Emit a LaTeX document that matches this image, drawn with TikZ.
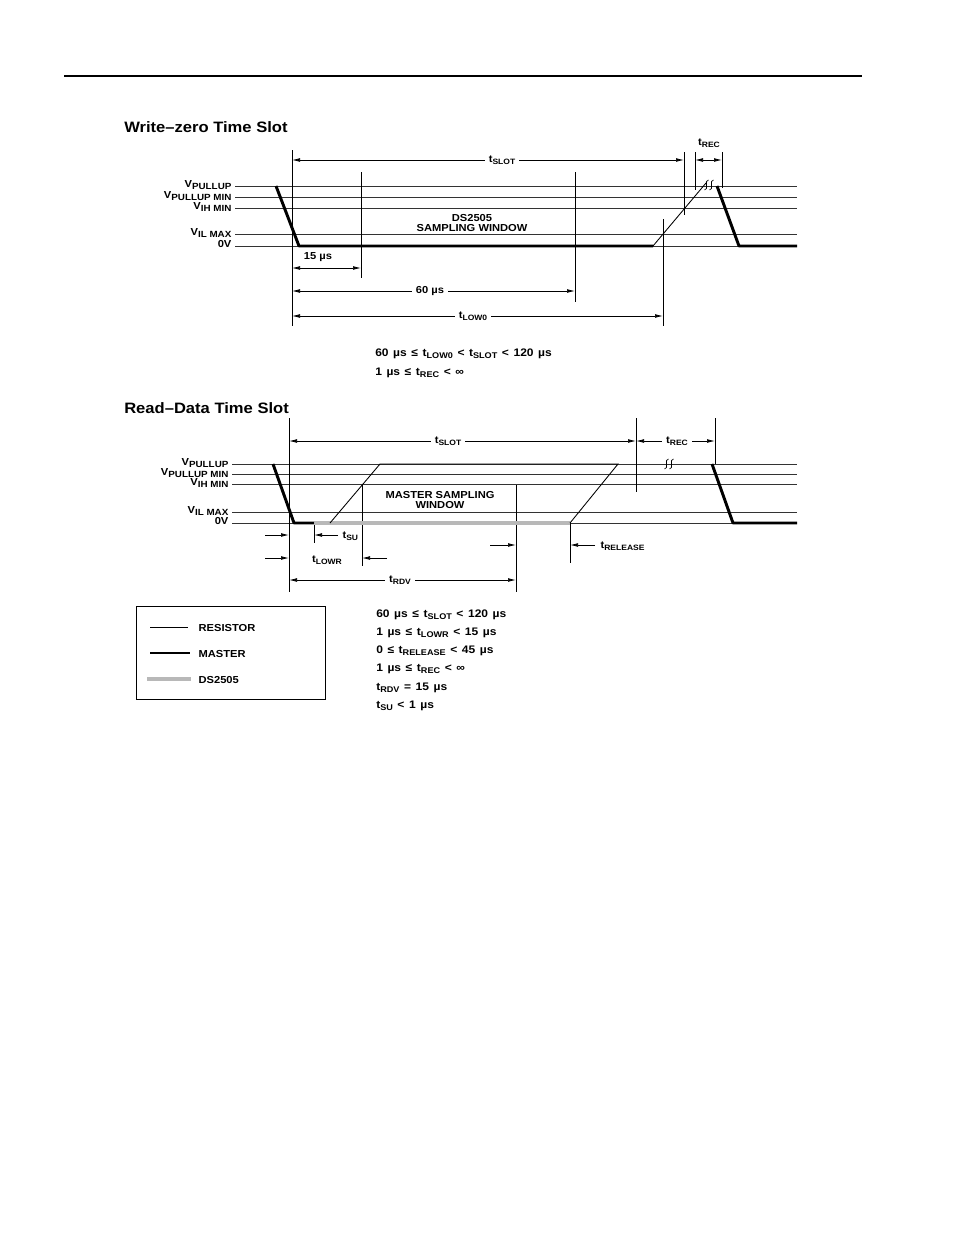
\documentclass[tikz,border=0pt]{standalone}
\usepackage{fontspec}
\setmainfont{Liberation Sans}[FakeStretch=1.1]
\usepackage{tikz}
\usetikzlibrary{arrows.meta}
\newcommand{\subsz}{5.8}
\newcommand{\vlev}[1]{V\raisebox{-1.5pt}{\fontsize{6.7}{7}\selectfont #1}}
\newcommand{\tsym}[1]{t\raisebox{-1.5pt}{\fontsize{\subsz}{6}\selectfont #1}}
\newcommand{\eqnfont}{\fontsize{8.2}{9}\selectfont\bfseries\def\subsz{6.2}\spaceskip=0.42em\relax}

\begin{document}
\begin{tikzpicture}[x=0.75pt, y=-0.75pt,
    level/.style={line width=0.6pt, black!80},
    guide/.style={line width=0.55pt},
    master/.style={line width=2.2pt, line join=round},
    resistor/.style={line width=0.65pt},
    slave/.style={line width=3.2pt, black!28},
    dim/.style={{Latex[length=6pt,width=2.8pt]}-{Latex[length=6pt,width=2.8pt]}, line width=0.55pt},
    pointer/.style={-{Latex[length=6pt,width=2.8pt]}, line width=0.55pt},
    lab/.style={font=\fontsize{7.6}{9}\selectfont\bfseries, inner sep=1pt},
    gaplab/.style={lab, fill=white, inner xsep=3pt},
    eqn/.style={font=\eqnfont, anchor=base west, inner sep=0pt},
    title/.style={font=\fontsize{11.3}{13}\selectfont\bfseries, anchor=base west, inner sep=0pt}]

  \useasboundingbox (0,0) rectangle (954,1235);
  \draw[line width=1pt] (64,76) -- (862,76);

  % write-zero slot
  \node[title] (wtitle) at (124,132) {Write–zero Time Slot};
  \foreach \y/\txt in {186/\vlev{PULLUP}, 197/\vlev{PULLUP MIN}, 208/\vlev{IH MIN},
                       234/\vlev{IL MAX}, 246/0V} {
    \node[lab, anchor=base east] at (233,\y+1) {\txt};
    \draw[level] (235,\y) -- (797,\y);
  }
  \foreach \x/\a/\b in {292/150/326, 361/172/278, 575/172/302, 663/219/326,
                        684/152/215, 695/152/190, 722/152/188}
    \draw[guide] (\x,\a) -- (\x,\b);
  \draw[master] (276,186) -- (299,246) -- (653,246);
  \draw[resistor] (653,246) -- (706,183);
  \draw[master] (717,186) -- (739,246) -- (797,246);
  \node[lab, align=center, font=\fontsize{7.6}{7.6}\selectfont\bfseries] (wwin) at (472,223)
    {DS2505\\SAMPLING WINDOW};

  \draw[dim] (292,160) -- (684,160);
  \node[gaplab] (wslot) at (502,160) {\tsym{SLOT}};
  \draw[dim] (695,160) -- (722,160);
  \node[lab] (wrec) at (709,143) {\tsym{REC}};
  \draw[dim] (292,268) -- (361,268);
  \node[lab] (w15) at (318,257) {15 µs};
  \draw[dim] (292,291) -- (575,291);
  \node[gaplab] (w60) at (430,291) {60 µs};
  \draw[dim] (292,316) -- (663,316);
  \node[gaplab] (wlow) at (473,316) {\tsym{LOW0}};

  \node[eqn] at (375,356) {60 µs ≤ \tsym{LOW0} < \tsym{SLOT} < 120 µs};
  \node[eqn] at (375,375) {1 µs ≤ \tsym{REC} < ∞};

  % read-data slot
  \node[title] (rtitle) at (124,413) {Read–Data Time Slot};
  \foreach \y/\txt in {464/\vlev{PULLUP}, 474/\vlev{PULLUP MIN}, 484/\vlev{IH MIN},
                       512/\vlev{IL MAX}, 523/0V} {
    \node[lab, anchor=base east] at (230,\y+1) {\txt};
    \draw[level] (232,\y) -- (797,\y);
  }
  \foreach \x/\a/\b in {289/418/592, 314/523/543, 362/485/566, 516/485/592,
                        570/523/563, 636/418/492, 715/418/464}
    \draw[guide] (\x,\a) -- (\x,\b);
  \draw[master] (273,464) -- (294,523) -- (314,523);
  \draw[slave] (314,523) -- (570,523);
  \draw[resistor] (330,523) -- (380,464) -- (618,464) -- (570,523);
  \draw[master] (712,464) -- (733,523) -- (797,523);
  \node[lab, align=center, font=\fontsize{7.6}{7.6}\selectfont\bfseries] (rwin) at (440,500)
    {MASTER SAMPLING\\WINDOW};

  % squiggles
  \foreach \sx/\sy in {706/185, 666/464}
    \foreach \dx in {0,5}
      \draw[line width=0.5pt] (\sx+\dx+2.5,\sy-5) .. controls (\sx+\dx-2.5,\sy-5) and (\sx+\dx+3.5,\sy+5) .. (\sx+\dx-1.5,\sy+5);

  \draw[dim] (289,441) -- (636,441);
  \node[gaplab] (rslot) at (448,441) {\tsym{SLOT}};
  \draw[dim] (636,441) -- (715,441);
  \node[gaplab] (rrec) at (677,441) {\tsym{REC}};
  \draw[pointer] (265,535) -- (289,535);
  \draw[pointer] (338,535) -- (314,535);
  \node[lab, anchor=west] (rsu) at (341,536) {\tsym{SU}};
  \draw[pointer] (265,558) -- (289,558);
  \draw[pointer] (387,558) -- (362,558);
  \node[lab] (rlowr) at (327,560) {\tsym{LOWR}};
  \draw[pointer] (490,545) -- (516,545);
  \draw[pointer] (595,545) -- (570,545);
  \node[lab, anchor=west] (rrel) at (599,546) {\tsym{RELEASE}};
  \draw[dim] (289,580) -- (516,580);
  \node[gaplab] (rrdv) at (400,580) {\tsym{RDV}};

  % legend
  \draw[line width=0.6pt] (136,606) rectangle (325,699);
  \draw[resistor] (150,627) -- (188,627);
  \node[lab, anchor=west] (kres) at (197,628) {RESISTOR};
  \draw[master] (150,653) -- (190,653);
  \node[lab, anchor=west] (kmas) at (197,654) {MASTER};
  \draw[slave] (147,679) -- (191,679);
  \node[lab, anchor=west] (kds) at (197,680) {DS2505};

  \foreach \i/\txt in {0/{60 µs ≤ \tsym{SLOT} < 120 µs}, 1/{1 µs ≤ \tsym{LOWR} < 15 µs},
                       2/{0 ≤ \tsym{RELEASE} < 45 µs}, 3/{1 µs ≤ \tsym{REC} < ∞},
                       4/{\tsym{RDV} = 15 µs}, 5/{\tsym{SU} < 1 µs}}
    \node[eqn] at (376,617+18.3*\i) {\txt};
\end{tikzpicture}
\end{document}
